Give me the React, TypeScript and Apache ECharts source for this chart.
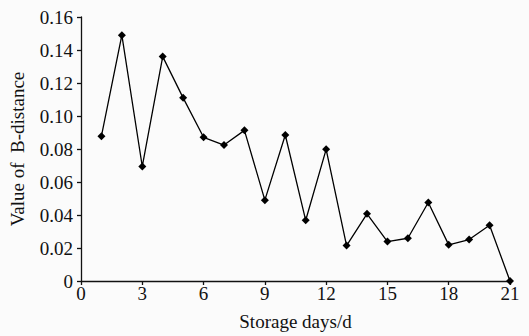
import React, { useEffect, useRef } from "react";
import * as echarts from "echarts";

const days = [1, 2, 3, 4, 5, 6, 7, 8, 9, 10, 11, 12, 13, 14, 15, 16, 17, 18, 19, 20, 21];
const bDistance = [
  0.0878, 0.149, 0.0694, 0.136, 0.111, 0.0871, 0.0824, 0.0913, 0.049, 0.0885, 0.0368,
  0.0798, 0.0215, 0.0407, 0.0239, 0.0259, 0.0476, 0.0219, 0.0251, 0.0338, 0,
];
const xTitle = "Storage days/d";
const yTitle = "Value of  B-distance";

export default function App() {
  const ref = useRef<HTMLDivElement>(null);
  useEffect(() => {
    if (!ref.current) return;
    const chart = echarts.init(ref.current, null, { renderer: "svg" });
    const font = "'Liberation Serif', 'Times New Roman', serif";
    chart.setOption({
      animation: false,
      backgroundColor: "#fbfbfb",
      textStyle: { fontFamily: font },
      grid: { left: 79, right: 19, top: 17, bottom: 49, containLabel: false },
      xAxis: {
        type: "value",
        min: 0,
        max: 21,
        interval: 3,
        name: xTitle,
        nameLocation: "middle",
        nameGap: 31,
        nameTextStyle: { fontFamily: font, fontSize: 19, color: "#111" },
        axisLine: { lineStyle: { color: "#111", width: 1.3 } },
        axisTick: { inside: false, length: 4, lineStyle: { color: "#111", width: 1.3 } },
        axisLabel: { fontFamily: font, fontSize: 19, color: "#111", margin: 3 },
        splitLine: { show: false },
      },
      yAxis: {
        type: "value",
        min: 0,
        max: 0.16,
        interval: 0.02,
        name: yTitle,
        nameLocation: "middle",
        nameGap: 54,
        nameTextStyle: { fontFamily: font, fontSize: 19, color: "#111" },
        axisLine: { show: true, lineStyle: { color: "#111", width: 1.3 } },
        axisTick: { show: true, inside: false, length: 4, lineStyle: { color: "#111", width: 1.3 } },
        axisLabel: {
          fontFamily: font,
          fontSize: 19,
          color: "#111",
          margin: 8,
          formatter: (v: number) => (v === 0 ? "0" : v.toFixed(2)),
        },
        splitLine: { show: false },
      },
      series: [
        {
          type: "line",
          data: days.map((d, i) => [d, bDistance[i]]),
          symbol: "diamond",
          symbolSize: 8,
          itemStyle: { color: "#000" },
          lineStyle: { color: "#000", width: 1.3 },
        },
      ],
    });
    return () => chart.dispose();
  }, []);
  return <div ref={ref} style={{ width: 529, height: 336, position: "absolute", left: 0, top: 0 }} />;
}
